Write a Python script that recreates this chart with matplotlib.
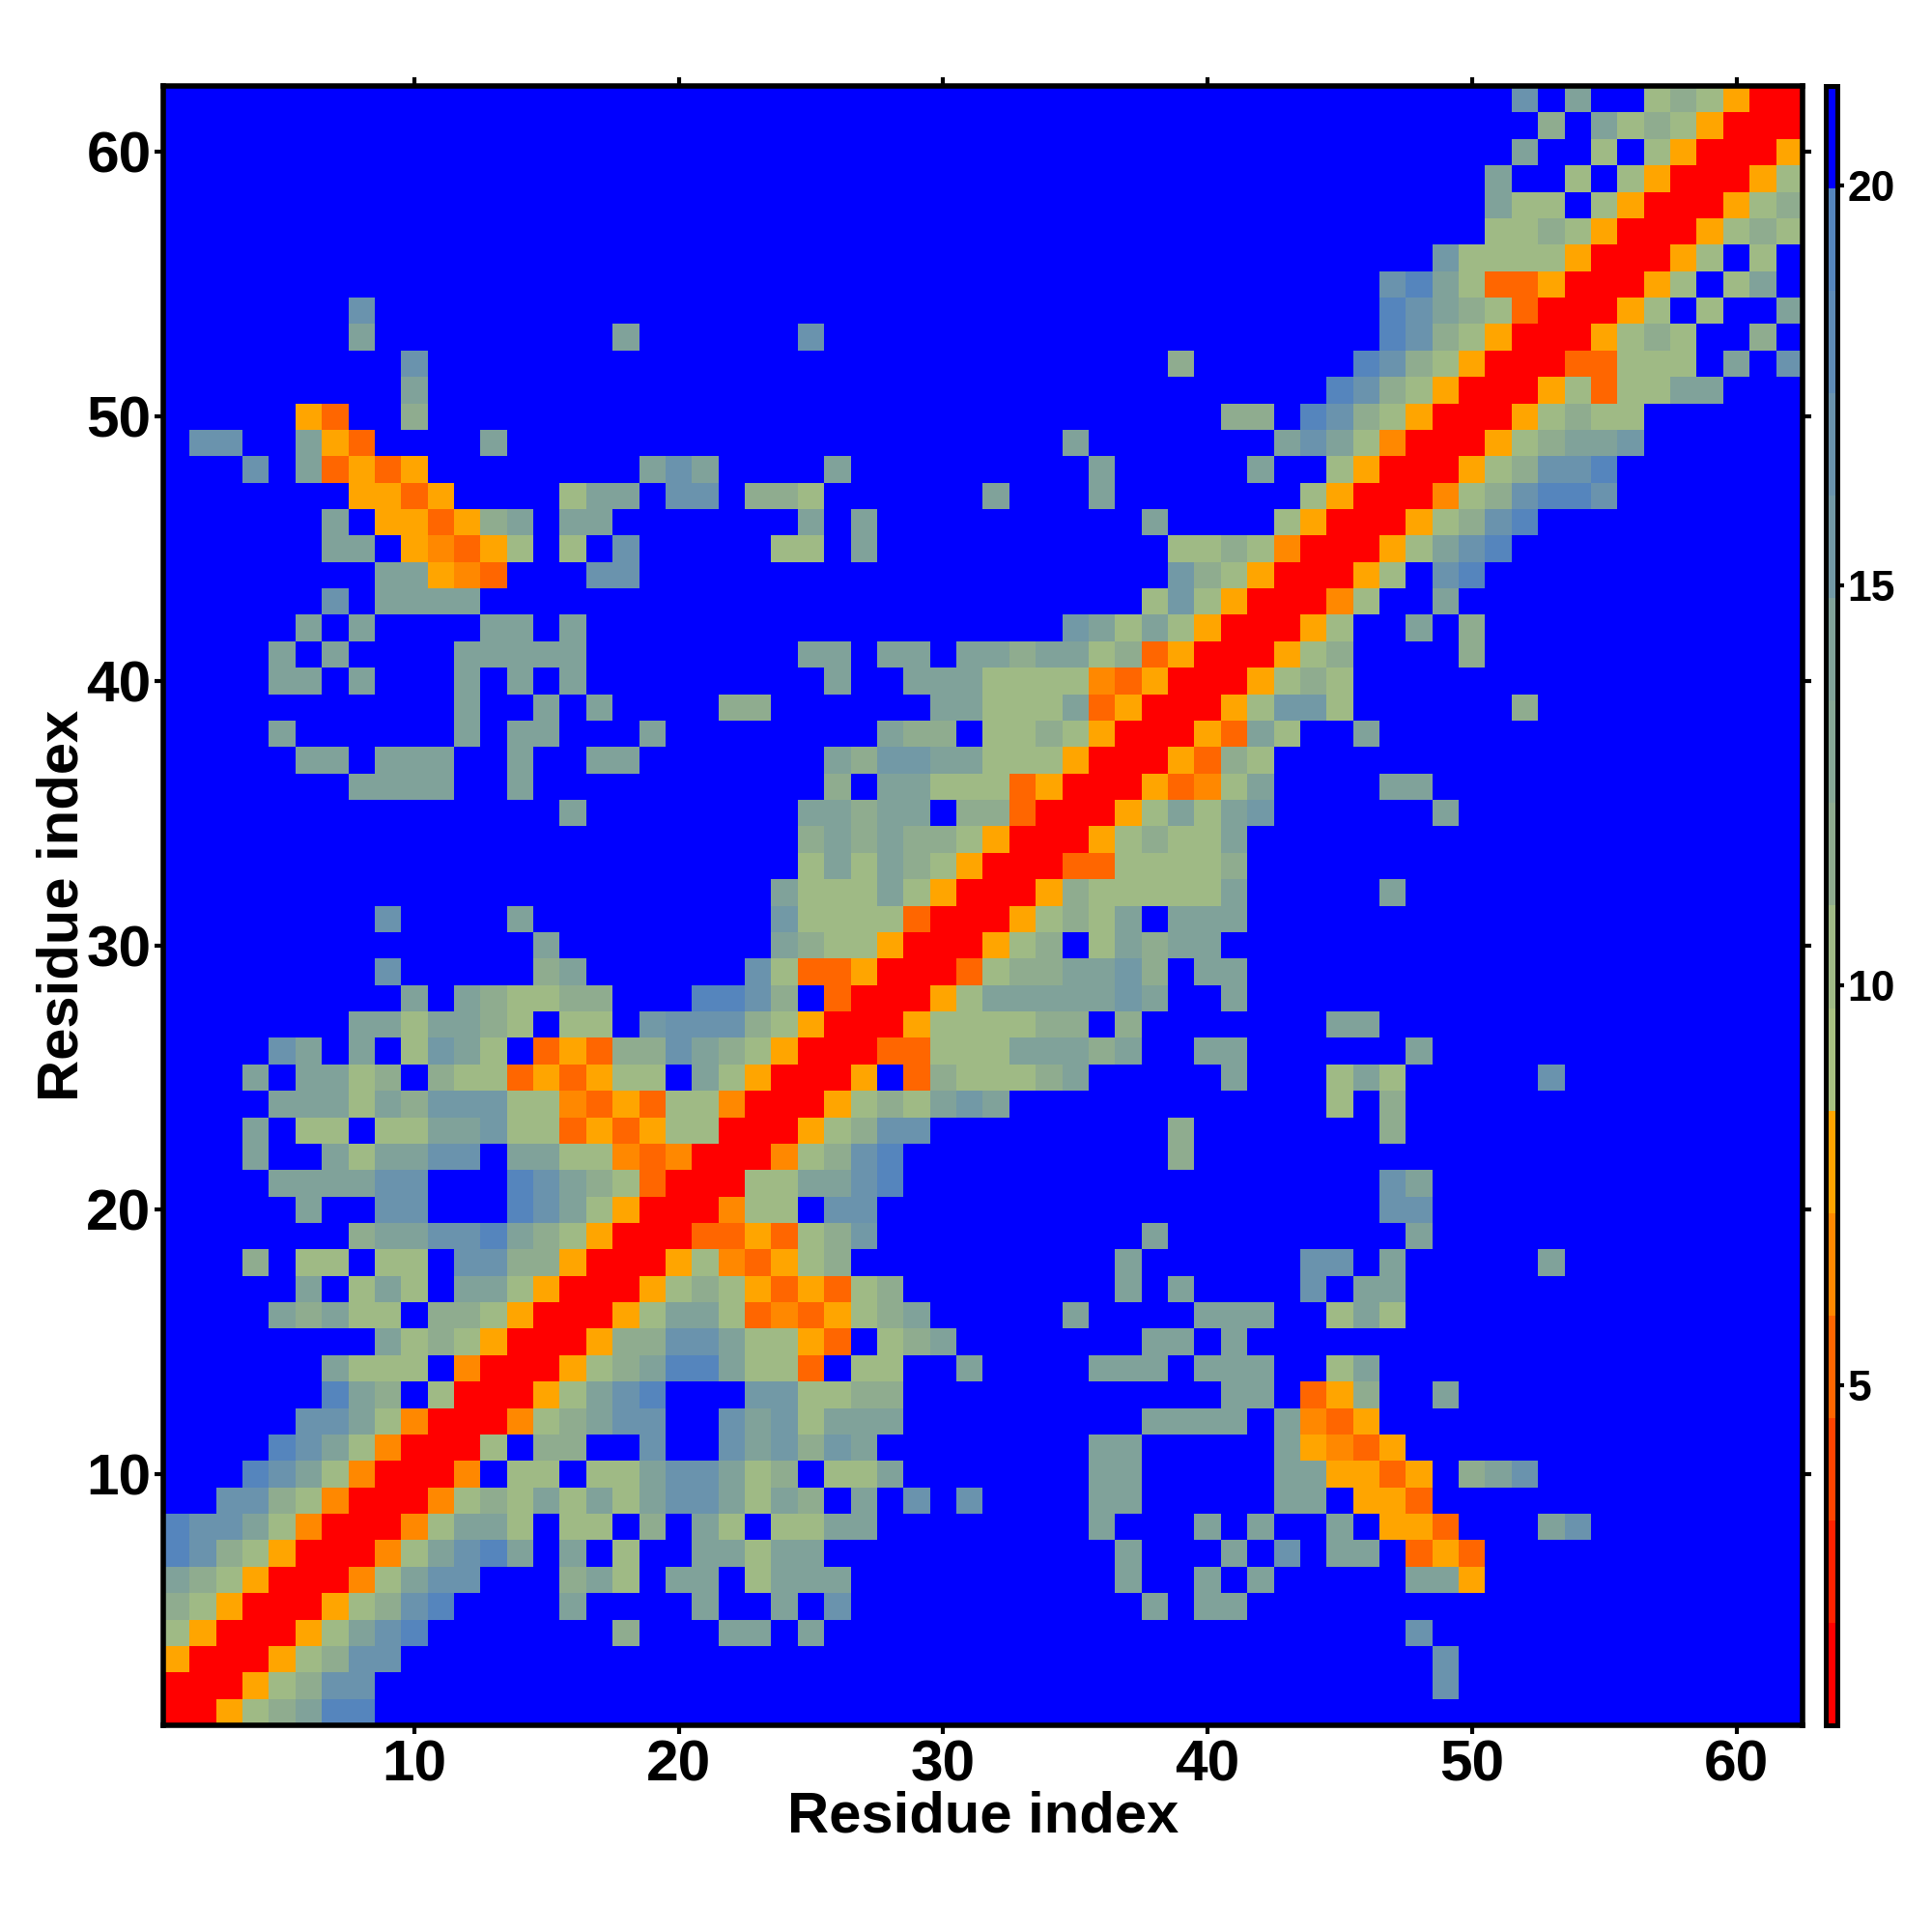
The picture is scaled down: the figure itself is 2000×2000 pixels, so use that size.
import numpy as np
import matplotlib
matplotlib.use("Agg")
import matplotlib.pyplot as plt
from matplotlib.colors import ListedColormap, BoundaryNorm

plt.rcParams['font.family'] = ['Liberation Sans', 'DejaVu Sans']
plt.rcParams['font.weight'] = 'bold'

# Distance-map rows (residue j, columns 1..j); the map is symmetric.
# Letters are the colour class.
d = "."
rows = [
 "R", "RR", "ORR", "lORR", "glORR", "tglORR", "bsglORR", "bsstloRR", "..ssgloRR", "...bstloRR",
 "....bstloRR", ".....sstloRR", "......btg.lRR", "......tlll.oRR", "........tlglORR",
 "....tgtll.gglORR", ".....t.ltl.ttlORR", "...g.ll.ll.ssggORR", ".......gttssbtglORR",
 ".....t..ss...bstlORR", "....ttttss...bstglDRR", "...t..tlttss.ttlloDoRR",
 "...t.ll.llttvllDODOllRR", "....tttltgvvvlloDODlloRR", "...t.ttlg.gllDODOll.tlORR",
 "....st.t.lvtl.DODggstglORR", ".......ttlttgl.ll.vsssglORR", ".........t.tgllgg...bbsg.DRR",
 "........s.....gt......slDDORR",
 d*14+"t"+d*8+"tgllORR",
 d*8+"s"+d*4+"t"+d*9+"vllllDRR",
 d*23+"tllltlORR",
 d*24+"ltltglORR",
 d*24+"gtgtgglORR",
 d*15+"t"+d*8+"ttgtt.ggDRR",
 d*7+"tttt..t"+d*11+"g.ttlllDORR",
 d*5+"tt.ttt..t..tt"+d*7+"tgvvttlllORR",
 d*4+"t"+d*6+"t.tt...t"+d*8+"tgg.llglORR",
 d*11+"t..t.t"+d*4+"gg"+d*6+"ttllltDORR",
 d*4+"tt.t...t.t.t"+d*9+"t..tttlllloDORR",
 d*4+"t.t"+d*4+"ttttt"+d*8+"tt.tt.ttgttlgDORR",
 d*5+"t.t"+d*4+"tt.t"+d*18+"vtltlORR",
 d*6+"s.tttt"+d*25+"lvlORR",
 d*8+"ttOoD...ss"+d*20+"vglORR",
 d*6+"tt.OoDOl.l.s"+d*5+"ll.t"+d*11+"llgloRR",
 d*6+"t.OODOgt.tt"+d*7+"t.t"+d*10+"t"+d*4+"lORR",
 d*7+"OODO"+d*4+"ltt.ss.ggl"+d*6+"t...t"+d*7+"lORR",
 "...s.tDODO"+d*8+"tst"+d*4+"t"+d*9+"t"+d*5+"t..lORR",
 ".ss..tOD"+d*4+"t"+d*21+"t"+d*7+"tstloRR",
 d*5+"OD..g"+d*30+"gg.bsglORR",
 d*9+"t"+d*34+"bsglORR",
 d*9+"s"+d*28+"g"+d*6+"bsglORR",
 d*7+"t"+d*9+"t"+d*6+"s"+d*21+"bsglORR",
 d*7+"s"+d*38+"bstglDRR",
 d*46+"sbtlDDORR",
 d*48+"vllllORR",
 d*50+"llglORR",
 d*50+"tll.lORR",
 d*50+"t..l.lORR",
 d*51+"t..l.lORR",
 d*52+"g.tlglORR",
 d*51+"s.t..lglORR",
]

# Colour bar: 16 bands from 0.75 to 21.25
bounds = np.linspace(0.75, 21.25, 17)
band_colors = ["#ff0000", "#ff2200", "#ff4400", "#ff6600", "#ff8800", "#ffa500",
               "#a8c080", "#9fba85", "#8fac8f", "#87a895", "#80a29a",
               "#7299a6", "#6a93ad", "#5e8bb6", "#5585bd", "#0000ff"]
band_of_class = {"R": 0, "D": 3, "o": 4, "O": 5, "l": 7, "g": 8, "t": 10,
                 "v": 11, "s": 12, "b": 14, ".": 15}
centres = (bounds[:-1] + bounds[1:]) / 2

n = len(rows)
Z = np.full((n, n), centres[15])
for j, row in enumerate(rows):
    assert len(row) == j + 1, (j + 1, len(row))
    for i, c in enumerate(row):
        Z[j, i] = Z[i, j] = centres[band_of_class[c]]

cmap = ListedColormap(band_colors)
norm = BoundaryNorm(bounds, cmap.N)

W = 2000.0
fig = plt.figure(figsize=(20, 20), dpi=100, facecolor="white")
ax = fig.add_axes([169/W, 1-1786/W, (1866-169)/W, (1786-89)/W])
im = ax.imshow(Z, origin="lower", extent=(0.5, n+0.5, 0.5, n+0.5), aspect="auto",
               cmap=cmap, norm=norm, interpolation="nearest")

ticks = [10, 20, 30, 40, 50, 60]
ax.set_xticks(ticks)
ax.set_yticks(ticks)
ax.tick_params(axis="both", which="major", direction="out", length=6.5, width=3,
               top=True, right=True, labelsize=43.5)
ax.tick_params(axis="x", pad=4)
ax.tick_params(axis="y", pad=2.5)
for s in ax.spines.values():
    s.set_linewidth(4)
ax.set_xlabel("Residue index", fontsize=43, fontweight="bold")
ax.set_ylabel("Residue index", fontsize=43, fontweight="bold")
ax.xaxis.set_label_coords(0.5, -0.0400)
ax.yaxis.set_label_coords(-0.0452, 0.5)

cax = fig.add_axes([1889.5/W, 1-1786/W, 12/W, (1786-89)/W])
cb = fig.colorbar(im, cax=cax, ticks=[5, 10, 15, 20], spacing="proportional")
cb.ax.tick_params(length=4.7, width=3, labelsize=32, pad=3)
cb.ax.minorticks_off()
cb.outline.set_visible(False)
for name, s in cb.ax.spines.items():
    s.set_visible(True)
    s.set_linewidth(3.6)
    s.set_color("black")

fig.savefig("out.png", dpi=100, facecolor="white")
